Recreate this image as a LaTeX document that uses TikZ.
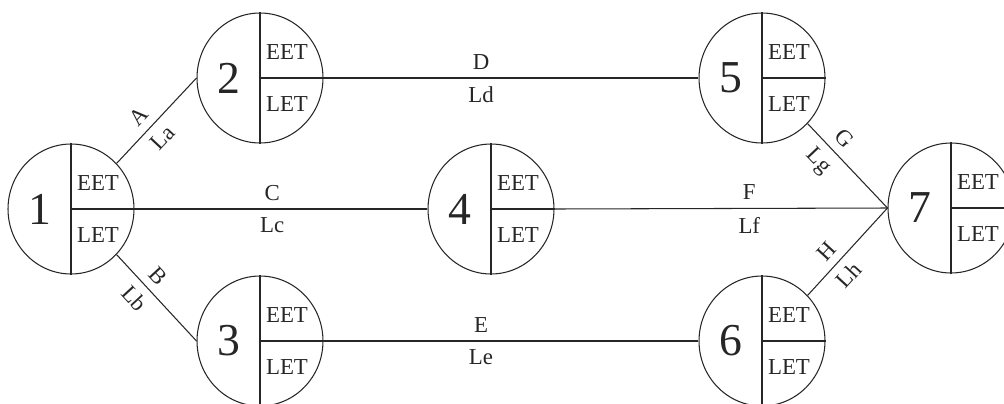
\documentclass[tikz,border=0pt]{standalone}
\usepackage{fontspec}
\setmainfont{Liberation Serif}
\usetikzlibrary{shapes.geometric,positioning}

\begin{document}
\begin{tikzpicture}[x=0.02cm, y=-0.02cm, % one unit = one pixel, y pointing down
        event/.style = {draw, ellipse, minimum width=2.52cm, minimum height=2.6cm, inner sep=0pt},
        evnum/.style = {font=\fontsize{26}{26}\selectfont, inner sep=0pt},
        evtime/.style = {font=\fontsize{13}{13}\selectfont, inner sep=0pt},
        act/.style = {font=\fontsize{13}{13}\selectfont, inner sep=4.6pt},
        every path/.style = {line width=0.6pt, color=black!85}]
    \useasboundingbox (0,0) rectangle (1004,403);
    % events: number on the left, earliest and latest times on the right
    \foreach \n/\x/\y in {1/71/209, 2/260/78, 3/260/341, 4/491/209, 5/762/78, 6/762/341, 7/951/208}
    {
        \node[event] (n\n) at (\x,\y) {};
        \draw (n\n.north) -- (n\n.south);
        \draw (n\n.center) -- (n\n.east);
        \node[evnum] at (\x-31,\y) {\n};
        \node[evtime] at (\x+27,\y-26) {EET};
        \node[evtime] at (\x+27,\y+26) {LET};
    }
    % activities
    \draw (n1.45) -- node[act, sloped, above, pos=0.42] {A} node[act, sloped, below, pos=0.43] {La} (n2.west);
    \draw (n1.-45) -- node[act, sloped, above, pos=0.37] {B} node[act, sloped, below, pos=0.38] {Lb} (n3.west);
    \draw (n1.east) -- node[act, above, pos=0.47] {C} node[act, below, pos=0.47] {Lc} (n4.west);
    \draw (n2.east) -- node[act, above, pos=0.42] {D} node[act, below, pos=0.42] {Ld} (n5.west);
    \draw (n3.east) -- node[act, above, pos=0.42] {E} node[act, below, pos=0.42] {Le} (n6.west);
    \draw (n4.east) -- node[act, above, pos=0.585] {F} node[act, below, pos=0.585] {Lf} (n7.west);
    \draw (n5.-45) -- node[act, sloped, above, pos=0.31] {G} node[act, sloped, below, pos=0.30] {Lg} (n7.west);
    \draw (n6.45) -- node[act, sloped, above, pos=0.38] {H} node[act, sloped, below, pos=0.36] {Lh} (n7.west);
\end{tikzpicture}
\end{document}
